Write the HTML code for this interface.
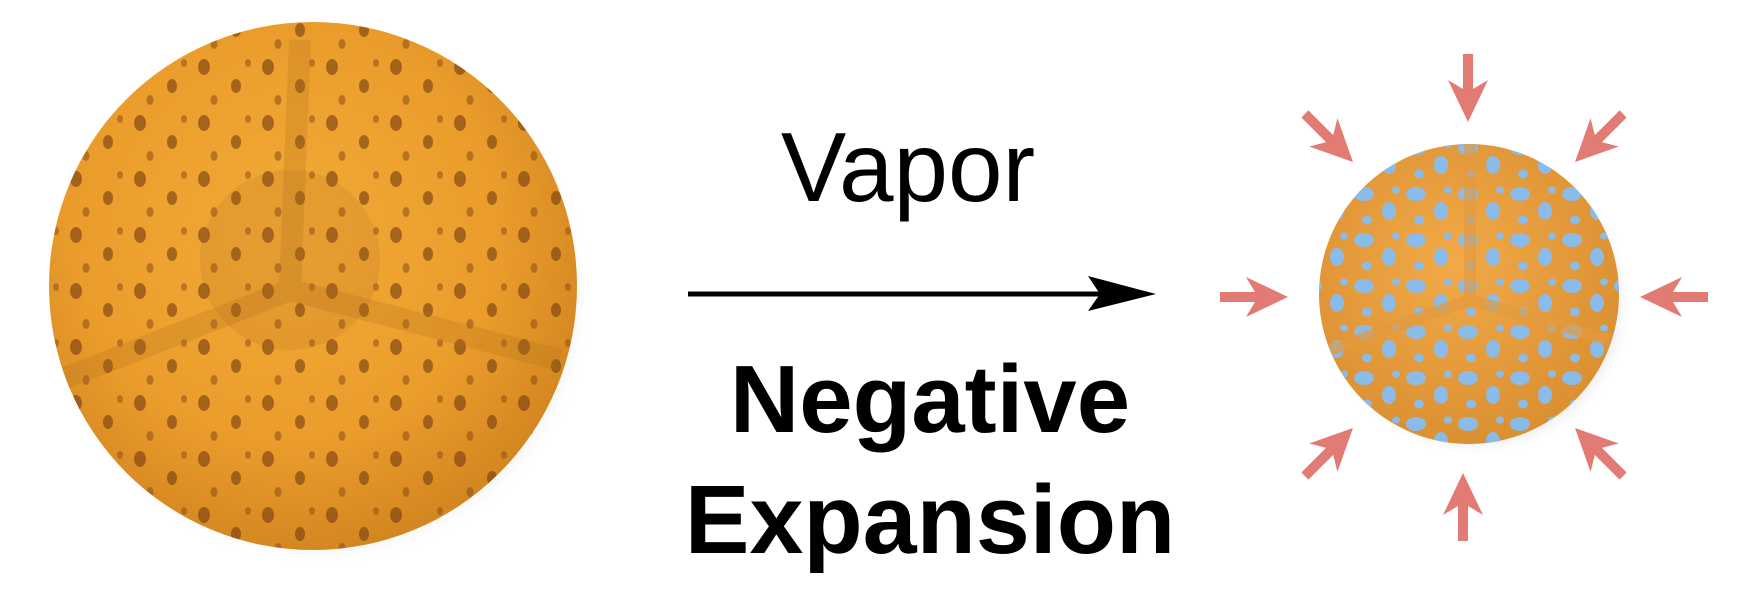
<!DOCTYPE html>
<html><head><meta charset="utf-8"><style>
html,body{margin:0;padding:0;background:#fff;width:1741px;height:606px;overflow:hidden}
svg{display:block}
</style></head><body>
<svg width="1741" height="606" viewBox="0 0 1741 606" xmlns="http://www.w3.org/2000/svg">
<defs>
<radialGradient id="g1" cx="45%" cy="40%" r="65%">
<stop offset="0" stop-color="#f2aa36"/>
<stop offset="0.6" stop-color="#eb9d2c"/>
<stop offset="1" stop-color="#cf821e"/>
</radialGradient>
<radialGradient id="g2" cx="45%" cy="40%" r="65%">
<stop offset="0" stop-color="#f2aa48"/>
<stop offset="1" stop-color="#d98e30"/>
</radialGradient>
<radialGradient id="sh" cx="50%" cy="50%" r="50%">
<stop offset="0.8" stop-color="#999" stop-opacity="0.5"/>
<stop offset="1" stop-color="#fff" stop-opacity="0"/>
</radialGradient>
<pattern id="holes" width="64" height="56" patternUnits="userSpaceOnUse">
<ellipse cx="12" cy="11" rx="6" ry="8" fill="#7a4210" opacity="0.85"/>
<ellipse cx="44" cy="30" rx="5" ry="7" fill="#7a4210" opacity="0.85"/>
<ellipse cx="22" cy="44" rx="3.5" ry="5" fill="#8a4e14" opacity="0.75"/>
<ellipse cx="56" cy="7" rx="3" ry="4" fill="#8a4e14" opacity="0.7"/>
</pattern>
<pattern id="blue" width="52" height="46" patternUnits="userSpaceOnUse">
<ellipse cx="12" cy="10" rx="10" ry="7" fill="#86bdf2"/>
<ellipse cx="37" cy="27" rx="7" ry="9" fill="#86bdf2"/>
<ellipse cx="15" cy="36" rx="5" ry="4.5" fill="#86bdf2"/>
<ellipse cx="44" cy="6" rx="4" ry="3.5" fill="#86bdf2"/>
</pattern>
<clipPath id="c1"><circle cx="313" cy="286" r="264"/></clipPath>
<clipPath id="c2"><circle cx="1469" cy="294" r="150"/></clipPath>
</defs>
<ellipse cx="322" cy="298" rx="272" ry="270" fill="url(#sh)"/>
<circle cx="313" cy="286" r="264" fill="url(#g1)"/>
<g clip-path="url(#c1)">
<rect x="40" y="20" width="560" height="540" fill="url(#holes)" opacity="0.75"/>
<path d="M300 40 L290 290 L60 380 M290 290 L560 360" stroke="#b06e18" stroke-width="22" fill="none" opacity="0.25"/>
<circle cx="290" cy="260" r="90" fill="#a0601a" opacity="0.15"/>
</g>
<text x="908" y="201" font-family="Liberation Sans, sans-serif" font-size="98" text-anchor="middle" fill="#000">Vapor</text>
<line x1="688" y1="294" x2="1100" y2="294" stroke="#000" stroke-width="5"/>
<polygon points="1088,276 1156,294 1088,311 1100,294" fill="#000"/>
<text x="930" y="432" font-family="Liberation Sans, sans-serif" font-weight="bold" font-size="96" text-anchor="middle" fill="#000">Negative</text>
<text x="930" y="553" font-family="Liberation Sans, sans-serif" font-weight="bold" font-size="97" text-anchor="middle" fill="#000">Expansion</text>
<ellipse cx="1476" cy="302" rx="158" ry="156" fill="url(#sh)"/>
<circle cx="1469" cy="294" r="150" fill="url(#g2)"/>
<g clip-path="url(#c2)">
<rect x="1310" y="135" width="320" height="320" fill="url(#blue)" opacity="0.95"/>
<path d="M1470 140 L1470 300 L1330 350 M1470 300 L1610 340" stroke="#e39a3e" stroke-width="12" fill="none" opacity="0.7"/>
</g>
<g fill="#e27b73">
<g transform="translate(1468,122)"><rect x="-5" y="-68" width="10" height="46"/><polygon points="-20,-42 0,-30 20,-42 0,0"/></g>
<g transform="translate(1463,473) rotate(180)"><rect x="-5" y="-68" width="10" height="46"/><polygon points="-20,-42 0,-30 20,-42 0,0"/></g>
<g transform="translate(1288,297) rotate(-90)"><rect x="-5" y="-68" width="10" height="46"/><polygon points="-20,-42 0,-30 20,-42 0,0"/></g>
<g transform="translate(1640,297) rotate(90)"><rect x="-5" y="-68" width="10" height="46"/><polygon points="-20,-42 0,-30 20,-42 0,0"/></g>
<g transform="translate(1353,162) rotate(-45)"><rect x="-5" y="-68" width="10" height="46"/><polygon points="-20,-42 0,-30 20,-42 0,0"/></g>
<g transform="translate(1575,162) rotate(45)"><rect x="-5" y="-68" width="10" height="46"/><polygon points="-20,-42 0,-30 20,-42 0,0"/></g>
<g transform="translate(1353,428) rotate(-135)"><rect x="-5" y="-68" width="10" height="46"/><polygon points="-20,-42 0,-30 20,-42 0,0"/></g>
<g transform="translate(1575,428) rotate(135)"><rect x="-5" y="-68" width="10" height="46"/><polygon points="-20,-42 0,-30 20,-42 0,0"/></g>
</g>
</svg>
</body></html>
